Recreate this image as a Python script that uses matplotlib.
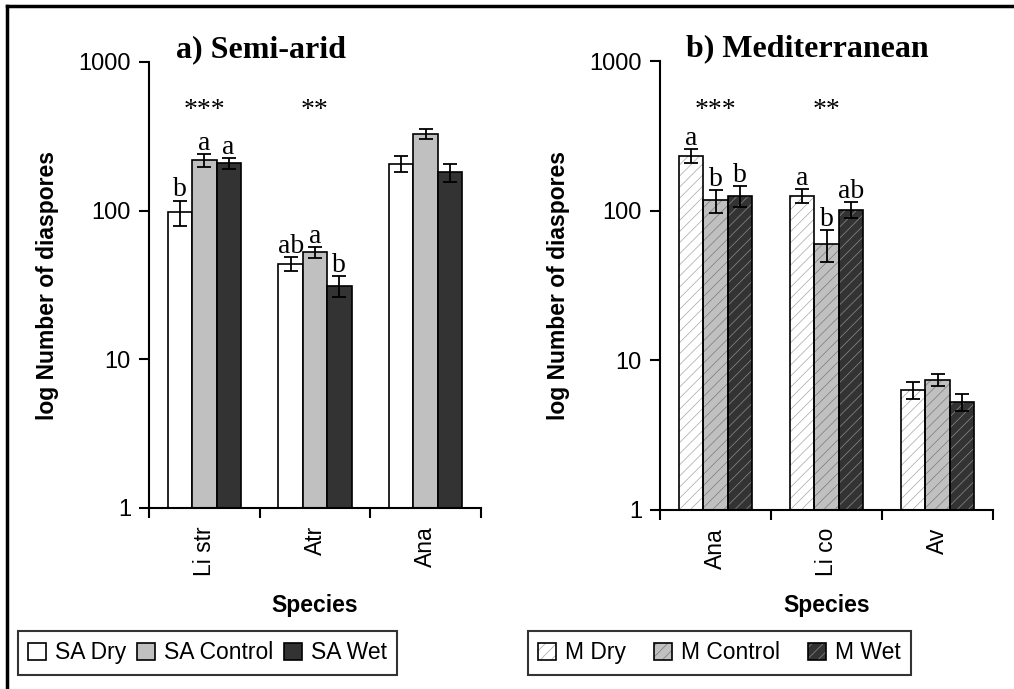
import numpy as np
import matplotlib.pyplot as plt
from matplotlib.patches import Patch
from matplotlib.lines import Line2D
from matplotlib.legend_handler import HandlerTuple

# Semi-arid site
sa_species = ['Li str', 'Atr', 'Ana']
sa_dry = [98, 44, 207]
sa_dry_err = [19, 4.5, 25]
sa_control = [219, 52.7, 330]
sa_control_err = [21, 4.3, 25]
sa_wet = [208, 31.3, 182]
sa_wet_err = [18, 5, 25]
sa_letters = [['b', 'a', 'a'], ['ab', 'a', 'b'], ['', '', '']]
sa_stars = ['***', '**', '']

# Mediterranean site
m_species = ['Ana', 'Li co', 'Av']
m_dry = [233, 126, 6.35]
m_dry_err = [25, 14, 0.8]
m_control = [117, 60, 7.4]
m_control_err = [20, 14.6, 0.7]
m_wet = [126, 101.6, 5.3]
m_wet_err = [20, 12, 0.7]
m_letters = [['a', 'b', 'b'], ['a', 'b', 'ab'], ['', '', '']]
m_stars = ['***', '**', '']

sans = 'Liberation Sans'
serif = 'Liberation Serif'
plt.rcParams['font.family'] = sans
plt.rcParams['hatch.linewidth'] = 0.5

fills = ['white', '#c0c0c0', '#333333']
hatch_cols = ['#a6a6a6', '#7a7a7a', '#8c8c8c']
width = 0.22
offsets = [-width, 0, width]

fig = plt.figure(figsize=(10.14, 6.89), dpi=100)
ax1 = fig.add_axes([149 / 1014, 1 - 508 / 689, 332 / 1014, 446 / 689])
ax2 = fig.add_axes([660 / 1014, 1 - 510 / 689, 333 / 1014, 449 / 689])


def draw_panel(ax, species, series, errs, letters, stars, hatched):
    x = np.arange(len(species))
    handles = []
    for k, (vals, err) in enumerate(zip(series, errs)):
        if hatched:
            ax.bar(x + offsets[k], vals, width, facecolor=fills[k],
                   edgecolor=hatch_cols[k], linewidth=0, hatch='///', zorder=2)
            ax.bar(x + offsets[k], vals, width, fill=False,
                   edgecolor='black', linewidth=1.2, zorder=3)
            h = (Patch(facecolor=fills[k], edgecolor=hatch_cols[k], hatch='///', linewidth=0),
                 Patch(fill=False, edgecolor='black', linewidth=1.2))
        else:
            ax.bar(x + offsets[k], vals, width, facecolor=fills[k],
                   edgecolor='black', linewidth=1.2, zorder=2)
            h = Patch(facecolor=fills[k], edgecolor='black', linewidth=1.2)
        handles.append(h)
        ax.errorbar(x + offsets[k], vals, yerr=err, fmt='none', ecolor='black',
                    elinewidth=1.3, capsize=5, capthick=1.3, zorder=4)
        for i in range(len(species)):
            if letters[i][k]:
                ax.annotate(letters[i][k], (x[i] + offsets[k], vals[i] + err[i]),
                            xytext=(0, 3), textcoords='offset points',
                            ha='center', va='baseline', fontsize=20, family=serif)
    for i, s in enumerate(stars):
        if s:
            ax.text(x[i], 425, s, ha='center', va='baseline', fontsize=20, family=serif)

    ax.set_yscale('log')
    ax.set_ylim(1, 1000)
    ax.set_xlim(-0.5, len(species) - 0.5)
    ax.set_yticks([1, 10, 100, 1000])
    ax.set_yticklabels(['1', '10', '100', '1000'])
    ax.yaxis.set_minor_locator(plt.NullLocator())
    ax.set_xticks(x)
    ax.set_xticklabels(species, rotation=90, va='top')
    ax.set_xticks(np.arange(len(species) + 1) - 0.5, minor=True)
    ax.tick_params(axis='x', which='major', length=0, pad=13, labelsize=16.5)
    ax.tick_params(axis='x', which='minor', length=7, width=1.5, direction='out')
    ax.tick_params(axis='y', length=7, width=1.5, direction='out', labelsize=17, pad=6)
    for side in ['top', 'right']:
        ax.spines[side].set_visible(False)
    for side in ['left', 'bottom']:
        ax.spines[side].set_linewidth(1.5)
    ax.set_xlabel('Species', fontsize=16.5, fontweight='bold', labelpad=13)
    ax.set_ylabel('log Number of diaspores', fontsize=16.5, fontweight='bold', labelpad=14)
    return handles


sa_handles = draw_panel(ax1, sa_species, [sa_dry, sa_control, sa_wet],
                        [sa_dry_err, sa_control_err, sa_wet_err], sa_letters, sa_stars, False)
m_handles = draw_panel(ax2, m_species, [m_dry, m_control, m_wet],
                       [m_dry_err, m_control_err, m_wet_err], m_letters, m_stars, True)

ax1.text(0.337, 1.01, 'a) Semi-arid', transform=ax1.transAxes, ha='center', va='baseline',
         fontsize=23, fontweight='bold', family=serif)
ax2.text(0.441, 1.01, 'b) Mediterranean', transform=ax2.transAxes, ha='center', va='baseline',
         fontsize=23, fontweight='bold', family=serif)

leg_kw = dict(ncol=3, fontsize=16.5, frameon=True, fancybox=False, handlelength=0.75,
              handleheight=0.75, handletextpad=0.4, borderpad=0.45,
              borderaxespad=0, loc='upper left',
              handler_map={tuple: HandlerTuple(ndivide=1, pad=0)})
leg1 = fig.legend(sa_handles, ['SA Dry', 'SA Control', 'SA Wet'], columnspacing=0.5,
                  bbox_to_anchor=(18 / 1014, 1 - 631 / 689), **leg_kw)
leg2 = fig.legend(m_handles, ['M Dry', 'M Control', 'M Wet'], columnspacing=1.25,
                  bbox_to_anchor=(528 / 1014, 1 - 631 / 689), **leg_kw)
for leg in (leg1, leg2):
    leg.get_frame().set_edgecolor('black')
    leg.get_frame().set_linewidth(1.5)

# frame lines along the top and left edges
fig.add_artist(Line2D([7 / 1014, 1], [1 - 6 / 689, 1 - 6 / 689], color='black', lw=2.5))
fig.add_artist(Line2D([7 / 1014, 7 / 1014], [0, 1 - 6 / 689], color='black', lw=2.5))

fig.savefig('out.png', dpi=100)
